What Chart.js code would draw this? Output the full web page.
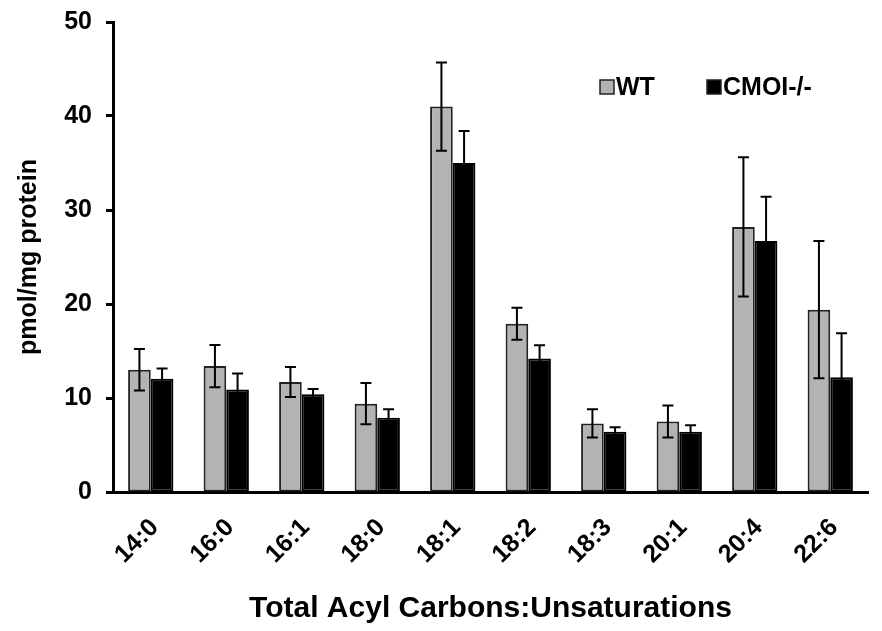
<!DOCTYPE html>
<html>
<head>
<meta charset="utf-8">
<script src="https://cdn.jsdelivr.net/npm/chart.js@4.4.1/dist/chart.umd.min.js"></script>
<style>
  body { margin: 0; background: #fff; }
</style>
</head>
<body>
<canvas id="acylChart" width="882" height="631"></canvas>
<script>
// values (pmol/mg protein)
const categories = ['14:0', '16:0', '16:1', '18:0', '18:1', '18:2', '18:3', '20:1', '20:4', '22:6'];
const wtValues = [13.0, 13.4, 11.7, 9.4, 41.0, 17.9, 7.3, 7.5, 28.2, 19.4];
const wtErrors = [2.2, 2.25, 1.6, 2.2, 4.7, 1.7, 1.5, 1.7, 7.4, 7.3];
const koValues = [12.05, 10.9, 10.4, 7.9, 35.0, 14.2, 6.4, 6.4, 26.7, 12.2];
const koErrors = [1.1, 1.7, 0.55, 0.9, 3.4, 1.4, 0.5, 0.7, 4.7, 4.7];
const seriesNames = ['WT', 'CMOI-/-'];

Chart.defaults.font.family = '"Liberation Sans", Arial, sans-serif';
Chart.defaults.color = '#000';

// draw +/- error bars on top of each bar
const errorBars = {
    id: 'errorBars',
    afterDatasetsDraw(chart) {
        const ctx = chart.ctx;
        const yScale = chart.scales.y;
        chart.data.datasets.forEach((ds, i) => {
            const meta = chart.getDatasetMeta(i);
            meta.data.forEach((bar, j) => {
                const v = ds.data[j];
                const e = ds.errors[j];
                const top = yScale.getPixelForValue(v + e);
                const bot = yScale.getPixelForValue(v - e);
                ctx.save();
                ctx.strokeStyle = '#000';
                ctx.lineWidth = 2;
                ctx.beginPath();
                ctx.moveTo(bar.x, top);
                ctx.lineTo(bar.x, bot);
                ctx.moveTo(bar.x - 5.5, top);
                ctx.lineTo(bar.x + 5.5, top);
                ctx.moveTo(bar.x - 5.5, bot);
                ctx.lineTo(bar.x + 5.5, bot);
                ctx.stroke();
                ctx.restore();
            });
        });
    }
};

// legend sits inside the plot, top right
const insideLegend = {
    id: 'insideLegend',
    afterDraw(chart) {
        const ctx = chart.ctx;
        const spots = [600, 707];
        ctx.save();
        ctx.font = 'bold 25px "Liberation Sans", Arial, sans-serif';
        ctx.textBaseline = 'middle';
        chart.data.datasets.forEach((ds, i) => {
            const x = spots[i];
            ctx.fillStyle = ds.backgroundColor;
            ctx.fillRect(x, 80, 14, 14);
            ctx.strokeStyle = '#222';
            ctx.lineWidth = 1.5;
            ctx.strokeRect(x, 80, 14, 14);
            ctx.fillStyle = '#000';
            ctx.fillText(ds.label, x + 16, 88);
        });
        ctx.restore();
    }
};

const ctx = document.getElementById('acylChart').getContext('2d');

new Chart(ctx, {
    type: 'bar',
    data: {
        labels: categories,
        datasets: [{
            label: seriesNames[0],
            data: wtValues,
            errors: wtErrors,
            backgroundColor: '#b3b3b3',
            borderColor: '#222',
            borderWidth: 2,
            borderSkipped: false,
        }, {
            label: seriesNames[1],
            data: koValues,
            errors: koErrors,
            backgroundColor: '#000',
            borderColor: '#000',
            borderWidth: 2,
            borderSkipped: false,
        }]
    },
    options: {
        responsive: false,
        animation: false,
        layout: { padding: { top: 3, right: 14, left: 0, bottom: 4 } },
        datasets: {
            bar: { categoryPercentage: 0.6, barPercentage: 1.0 }
        },
        plugins: {
            legend: { display: false },
            tooltip: { enabled: false }
        },
        scales: {
            x: {
                grid: { display: false },
                border: { display: true, color: '#000', width: 3 },
                ticks: {
                    minRotation: 45,
                    maxRotation: 45,
                    padding: 13,
                    labelOffset: 4,
                    font: { size: 25, weight: 'bold' }
                },
                title: {
                    display: true,
                    text: 'Total Acyl Carbons:Unsaturations',
                    font: { size: 30, weight: 'bold' },
                    padding: { top: 0, bottom: 0 }
                },
                afterFit(scale) {
                    scale.height = 135;
                }
            },
            y: {
                min: 0,
                max: 50,
                grid: {
                    drawOnChartArea: false,
                    drawTicks: true,
                    tickLength: 7,
                    tickWidth: 3,
                    tickColor: '#000'
                },
                border: { display: true, color: '#000', width: 3 },
                ticks: {
                    stepSize: 10,
                    padding: 14,
                    font: { size: 25, weight: 'bold' }
                },
                title: {
                    display: true,
                    text: 'pmol/mg protein',
                    font: { size: 25, weight: 'bold' },
                    padding: { top: 14, bottom: 0 }
                },
                afterFit(scale) {
                    scale.width = 113;
                    scale.paddingTop = 22;
                    scale.paddingBottom = 0;
                }
            }
        }
    },
    plugins: [errorBars, insideLegend]
});
</script>
</body>
</html>
